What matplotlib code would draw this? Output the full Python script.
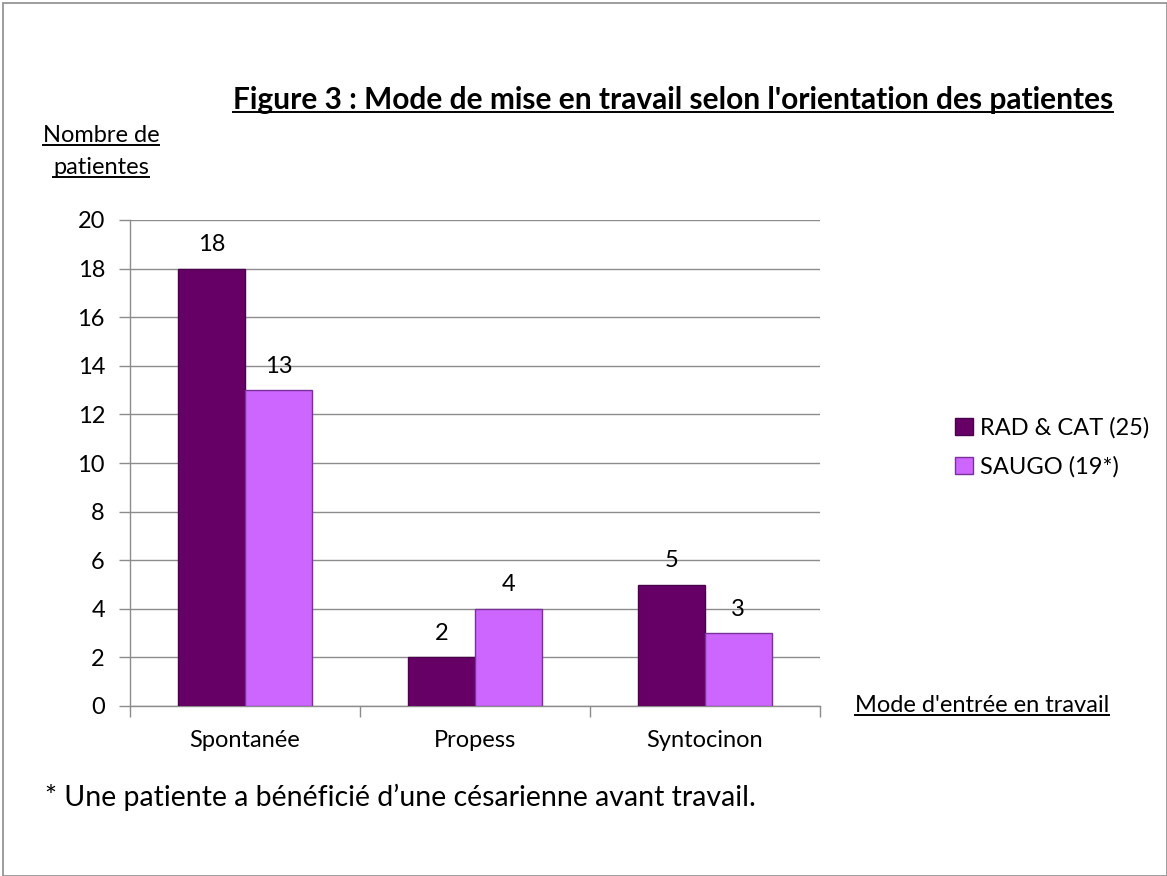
import matplotlib.pyplot as plt
from matplotlib.patches import Rectangle
from matplotlib.lines import Line2D
import numpy as np

plt.rcParams['font.family'] = ['Lato', 'DejaVu Sans']

categories = ['Spontanée', 'Propess', 'Syntocinon']
rad_cat = [18, 2, 5]
saugo = [13, 4, 3]
labels = ['RAD & CAT (25)', 'SAUGO (19*)']

W, H = 1167, 876
fig = plt.figure(figsize=(W / 100, H / 100), dpi=100)
ax = fig.add_axes([130 / W, 1 - 706 / H, 690 / W, 486 / H])

fs = 17
x = np.arange(len(categories))
bw = 0.29
b1 = ax.bar(x - bw / 2, rad_cat, bw, color='#660066', edgecolor='#4a004a', linewidth=1, zorder=3, label=labels[0])
b2 = ax.bar(x + bw / 2, saugo, bw, color='#cc66ff', edgecolor='#7a2f9a', linewidth=1, zorder=3, label=labels[1])

for bars, vals in ((b1, rad_cat), (b2, saugo)):
    for r, v in zip(bars, vals):
        ax.text(r.get_x() + r.get_width() / 2, v + 0.55, str(v), ha='center', va='bottom', fontsize=fs, zorder=4)

ax.set_xlim(-0.5, 2.5)
ax.set_ylim(0, 20)
ax.set_yticks(range(0, 21, 2))
ax.yaxis.grid(True, color='#8c8c8c', linewidth=1, zorder=0)
ax.set_xticks([])
ax.set_xticks(np.arange(-0.5, 3, 1), minor=True)
ax.tick_params(axis='x', which='minor', length=8, color='#8c8c8c', width=1)
ax.tick_params(axis='y', length=8, color='#8c8c8c', width=1, labelsize=fs, pad=10)
for i, c in enumerate(categories):
    ax.text(i, -1.0, c, ha='center', va='top', fontsize=fs)
for s in ('top', 'right'):
    ax.spines[s].set_visible(False)
for s in ('left', 'bottom'):
    ax.spines[s].set_color('#8c8c8c')
    ax.spines[s].set_linewidth(1)

leg = fig.legend(handles=[b1, b2], labels=labels, loc='upper left', bbox_to_anchor=(934 / W, 1 - 396 / H),
                 frameon=False, fontsize=fs, handlelength=0.75, handleheight=0.75, handletextpad=0.3,
                 labelspacing=0.75)

def underlined(xp, yp, s, **kw):
    t = fig.text(xp / W, 1 - yp / H, s, **kw)
    fig.canvas.draw()
    bb = t.get_window_extent()
    y0 = bb.y0 + 2
    fig.add_artist(Line2D([bb.x0 / W, bb.x1 / W], [y0 / H, y0 / H], color='black',
                          linewidth=1.4, transform=fig.transFigure))
    return t

underlined(673, 100, "Figure 3 : Mode de mise en travail selon l'orientation des patientes",
           ha='center', va='center', fontsize=21.5, fontweight='bold')
underlined(101, 136, 'Nombre de', ha='center', va='center', fontsize=fs)
underlined(101, 168, 'patientes', ha='center', va='center', fontsize=fs)
underlined(982, 706, "Mode d'entrée en travail", ha='center', va='center', fontsize=fs)

fig.text(45 / W, 1 - 797 / H, '* Une patiente a bénéficié d\u2019une césarienne avant travail.',
         ha='left', va='center', fontsize=20.5)

fig.add_artist(Rectangle((3 / W, 0), 1 - 3 / W, 1 - 3 / H, transform=fig.transFigure,
                         fill=False, edgecolor='#8c8c8c', linewidth=1.2))

fig.savefig('out.png', dpi=100)
